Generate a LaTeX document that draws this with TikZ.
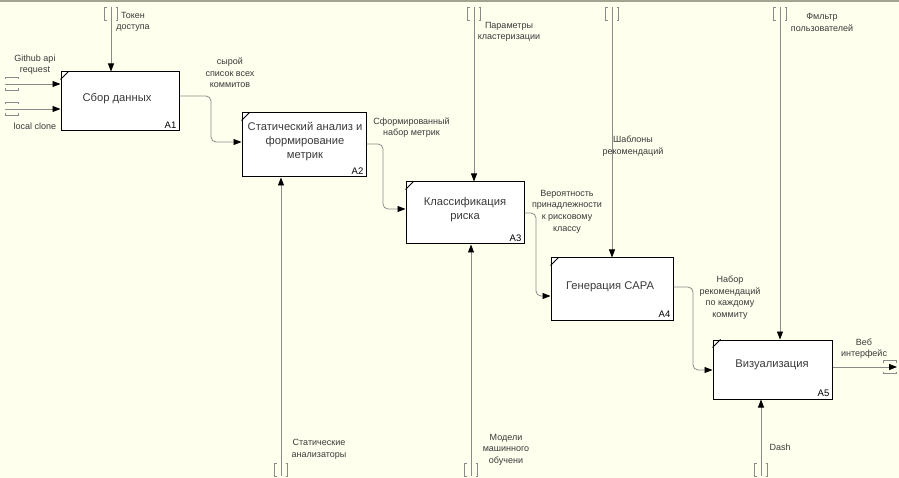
\documentclass[tikz,border=0pt]{standalone}
\usepackage{fontspec}
\setmainfont{Liberation Sans}
\usetikzlibrary{arrows.meta,calc}
\definecolor{bg}{HTML}{FFFFEE}
\definecolor{connc}{HTML}{8A8A8A}
\definecolor{framec}{HTML}{A3A38F}
\definecolor{txtc}{HTML}{3A3A3A}
\tikzset{
  fbox/.style={draw=black, fill=white, line width=1pt, inner sep=0pt},
  boxtext/.style={font=\fontsize{11.2}{14}\selectfont, text=txtc, align=center, inner sep=0pt},
  numtext/.style={font=\fontsize{9.5}{11}\selectfont, text=black, inner sep=0pt, anchor=south east},
  lbl/.style={font=\fontsize{9}{11.6}\selectfont, text=txtc, align=center, inner sep=0pt},
  conn/.style={draw=connc, line width=0.8pt, rounded corners=5pt,
    -{Triangle[length=8pt,width=6pt,color=black]}},
  brk/.style={draw=connc, line width=0.7pt},
  tunv/.pic={\draw[brk] (-4.5,-6.5) -- (-6.5,-6.5) -- (-6.5,6.5) -- (-4.5,6.5)
                          (4.5,-6.5) -- (6.5,-6.5) -- (6.5,6.5) -- (4.5,6.5);},
  tunh/.pic={\draw[brk] (-6.5,-4.5) -- (-6.5,-6.5) -- (6.5,-6.5) -- (6.5,-4.5)
                          (-6.5,4.5) -- (-6.5,6.5) -- (6.5,6.5) -- (6.5,4.5);}
}
\newcommand{\corner}[1]{\draw[black, line width=0.8pt] ($(#1.north west)+(0,8)$) -- ($(#1.north west)+(8,0)$);}
\begin{document}
\begin{tikzpicture}[x=1pt,y=-1pt]
\useasboundingbox (0,0) rectangle (899,478);
\fill[bg] (0,0) rectangle (899,478);
\draw[framec, line width=1.6pt] (0,0.8) -- (899,0.8);

% boxes
\node[fbox, minimum width=118pt, minimum height=59pt] (A1) at (120,101.5) {};
\node[fbox, minimum width=124pt, minimum height=64pt] (A2) at (304,145) {};
\node[fbox, minimum width=118pt, minimum height=62pt] (A3) at (465,213) {};
\node[fbox, minimum width=122pt, minimum height=62pt] (A4) at (612,289) {};
\node[fbox, minimum width=119pt, minimum height=59pt] (A5) at (772.5,369.5) {};
\foreach \b in {A1,A2,A3,A4,A5} {\corner{\b}}

\node[boxtext] (t1) at (117,99) {Сбор данных};
\node[boxtext] (t2) at (305,142) {Статический анализ и\\формирование\\метрик};
\node[boxtext] (t3) at (465,209.5) {Классификация\\риска};
\node[boxtext] (t4) at (610,287) {Генерация CAPA};
\node[boxtext] (t5) at (772,365) {Визуализация};

\node[numtext] (n1) at ($(A1.south east)+(-3,-3)$) {A1};
\node[numtext] (n2) at ($(A2.south east)+(-3,-3)$) {A2};
\node[numtext] (n3) at ($(A3.south east)+(-3,-3)$) {A3};
\node[numtext] (n4) at ($(A4.south east)+(-3,-3)$) {A4};
\node[numtext] (n5) at ($(A5.south east)+(-3,-3)$) {A5};

% tunnel ends
\coordinate (tk) at (111,7);   \pic at (111,14) {tunv};
\coordinate (pk) at (474,7);   \pic at (474,14) {tunv};
\coordinate (sh) at (612,7);   \pic at (612,14) {tunv};
\coordinate (fl) at (780,7);   \pic at (780,14) {tunv};
\coordinate (st) at (281,476); \pic at (281,470) {tunv};
\coordinate (md) at (471,476); \pic at (471,470) {tunv};
\coordinate (ds) at (761,476); \pic at (761,470) {tunv};
\coordinate (gh) at (5,84);    \pic at (11.5,84) {tunh};
\coordinate (lc) at (5,109);   \pic at (11.5,109) {tunh};
\coordinate (out) at (897,367); \pic at (890,367) {tunh};

% controls
\draw[conn] (tk) -- (tk |- A1.north);
\draw[conn] (pk) -- (pk |- A3.north);
\draw[conn] (sh) -- (sh |- A4.north);
\draw[conn] (fl) -- (fl |- A5.north);
% mechanisms
\draw[conn] (st) -- (st |- A2.south);
\draw[conn] (md) -- (md |- A3.south);
\draw[conn] (ds) -- (ds |- A5.south);
% inputs
\draw[conn] (gh) -- (gh -| A1.west);
\draw[conn] (lc) -- (lc -| A1.west);
% flows
\draw[conn] (A1.east |- 0,96) -- (211,96) -- (211,142) -- (A2.west |- 0,142);
\draw[conn] (A2.east |- 0,144) -- (383,144) -- (383,209) -- (A3.west |- 0,209);
\draw[conn] (A3.east |- 0,213) -- (536,213) -- (536,296) -- (A4.west |- 0,296);
\draw[conn] (A4.east |- 0,287) -- (693,287) -- (693,370) -- (A5.west |- 0,370);
\draw[conn] (A5.east |- out) -- (out);

% labels
\node[lbl] (l1) at (133,22) {Токен\\доступа};
\node[lbl] (l2) at (35,64.5) {Github api\\request};
\node[lbl] (l3) at (35,126) {local clone};
\node[lbl] (l4) at (230,73) {сырой\\список всех\\коммитов};
\node[lbl] (l5) at (411.5,127.5) {Сформированный\\набор метрик};
\node[lbl] (l6) at (509,32) {Параметры\\кластеризации};
\node[lbl] (l7) at (633,146) {Шаблоны\\рекомендаций};
\node[lbl] (l8) at (567,211.5) {Вероятность\\принадлежности\\к рисковому\\классу};
\node[lbl] (l9) at (730,297.5) {Набор\\рекомендаций\\по каждому\\коммиту};
\node[lbl] (l10) at (822,22.5) {Фмльтр\\пользователей};
\node[lbl] (l11) at (864,348.5) {Веб\\интерфейс};
\node[lbl] (l12) at (319,449) {Статические\\анализаторы};
\node[lbl] (l13) at (506,449.5) {Модели\\машинного\\обучени};
\node[lbl] (l14) at (780,447) {Dash};
\end{tikzpicture}
\end{document}
